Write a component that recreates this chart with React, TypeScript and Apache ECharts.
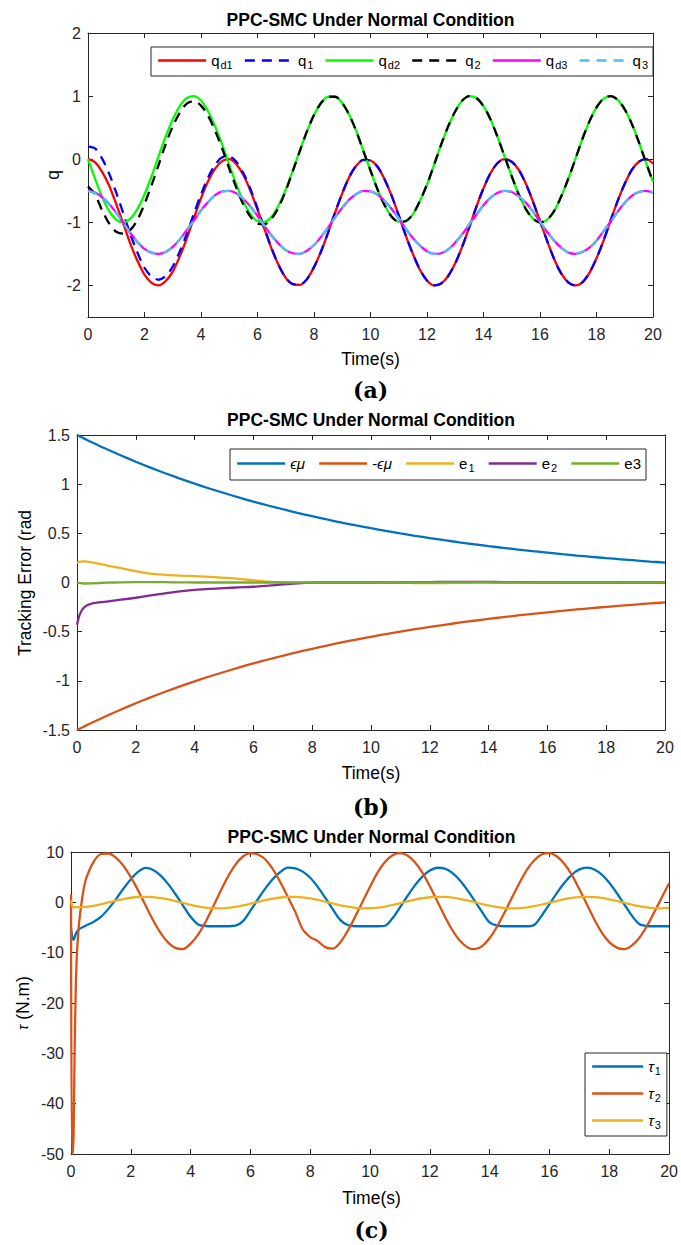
import React, { useEffect, useRef } from "react";
import * as echarts from "echarts";

// ---------------- DATA ----------------
// (a) joint positions, sampled every 0.25 s
const timeA = [0,0.25,0.5,0.75,1,1.25,1.5,1.75,2,2.25,2.5,2.75,3,3.25,3.5,3.75,4,4.25,4.5,4.75,5,5.25,5.5,5.75,6,6.25,6.5,6.75,7,7.25,7.5,7.75,8,8.25,8.5,8.75,9,9.25,9.5,9.75,10,10.25,10.5,10.75,11,11.25,11.5,11.75,12,12.25,12.5,12.75,13,13.25,13.5,13.75,14,14.25,14.5,14.75,15,15.25,15.5,15.75,16,16.25,16.5,16.75,17,17.25,17.5,17.75,18,18.25,18.5,18.75,19,19.25,19.5,19.75,20];
const qd1 = [0.00,-0.05,-0.20,-0.42,-0.71,-1.02,-1.34,-1.61,-1.83,-1.96,-2.00,-1.93,-1.78,-1.54,-1.25,-0.93,-0.62,-0.35,-0.15,-0.03,0.00,-0.08,-0.25,-0.50,-0.80,-1.11,-1.42,-1.68,-1.88,-1.98,-1.99,-1.90,-1.71,-1.46,-1.16,-0.84,-0.54,-0.28,-0.10,-0.01,-0.02,-0.12,-0.32,-0.58,-0.89,-1.21,-1.50,-1.75,-1.92,-2.00,-1.97,-1.85,-1.65,-1.38,-1.07,-0.75,-0.46,-0.22,-0.06,0.00,-0.04,-0.17,-0.39,-0.67,-0.98,-1.29,-1.58,-1.81,-1.95,-2.00,-1.95,-1.80,-1.57,-1.29,-0.97,-0.66,-0.39,-0.17,-0.04,0.00,-0.07];
const q1 = [0.20,0.17,0.01,-0.23,-0.53,-0.86,-1.19,-1.48,-1.72,-1.86,-1.91,-1.85,-1.70,-1.46,-1.18,-0.86,-0.56,-0.29,-0.09,0.03,0.04,-0.04,-0.22,-0.47,-0.78,-1.10,-1.41,-1.68,-1.88,-1.98,-1.99,-1.90,-1.71,-1.46,-1.16,-0.84,-0.54,-0.28,-0.10,-0.01,-0.02,-0.12,-0.32,-0.58,-0.89,-1.21,-1.50,-1.75,-1.92,-2.00,-1.97,-1.85,-1.65,-1.38,-1.07,-0.75,-0.46,-0.22,-0.06,0.00,-0.04,-0.17,-0.39,-0.67,-0.98,-1.29,-1.58,-1.81,-1.95,-2.00,-1.95,-1.80,-1.57,-1.29,-0.97,-0.66,-0.39,-0.17,-0.04,0.00,-0.07];
const qd2 = [0.00,-0.31,-0.60,-0.82,-0.96,-1.00,-0.94,-0.79,-0.56,-0.27,0.05,0.36,0.63,0.84,0.97,1.00,0.93,0.76,0.52,0.23,-0.09,-0.40,-0.67,-0.87,-0.98,-0.99,-0.91,-0.73,-0.48,-0.18,0.14,0.44,0.70,0.89,0.99,0.99,0.89,0.70,0.44,0.13,-0.18,-0.48,-0.73,-0.91,-0.99,-0.98,-0.87,-0.66,-0.40,-0.09,0.23,0.52,0.76,0.93,1.00,0.97,0.84,0.63,0.35,0.04,-0.27,-0.56,-0.79,-0.94,-1.00,-0.96,-0.82,-0.59,-0.31,0.00,0.32,0.60,0.82,0.96,1.00,0.94,0.79,0.56,0.27,-0.05,-0.36];
const q2 = [-0.43,-0.56,-0.81,-1.02,-1.15,-1.18,-1.12,-0.96,-0.71,-0.41,-0.09,0.24,0.52,0.74,0.88,0.92,0.85,0.69,0.45,0.17,-0.15,-0.45,-0.72,-0.91,-1.02,-1.03,-0.94,-0.76,-0.50,-0.19,0.13,0.44,0.70,0.89,0.99,0.99,0.89,0.70,0.44,0.13,-0.18,-0.48,-0.73,-0.91,-0.99,-0.98,-0.87,-0.66,-0.40,-0.09,0.23,0.52,0.76,0.93,1.00,0.97,0.84,0.63,0.35,0.04,-0.27,-0.56,-0.79,-0.94,-1.00,-0.96,-0.82,-0.59,-0.31,0.00,0.32,0.60,0.82,0.96,1.00,0.94,0.79,0.56,0.27,-0.05,-0.36];
const qd3 = [-0.50,-0.53,-0.60,-0.71,-0.85,-1.01,-1.17,-1.31,-1.42,-1.48,-1.50,-1.47,-1.39,-1.27,-1.12,-0.97,-0.81,-0.68,-0.57,-0.51,-0.50,-0.54,-0.63,-0.75,-0.90,-1.06,-1.21,-1.34,-1.44,-1.49,-1.50,-1.45,-1.36,-1.23,-1.08,-0.92,-0.77,-0.64,-0.55,-0.50,-0.51,-0.56,-0.66,-0.79,-0.94,-1.10,-1.25,-1.37,-1.46,-1.50,-1.49,-1.43,-1.32,-1.19,-1.03,-0.88,-0.73,-0.61,-0.53,-0.50,-0.52,-0.59,-0.69,-0.83,-0.99,-1.15,-1.29,-1.40,-1.48,-1.50,-1.47,-1.40,-1.29,-1.14,-0.99,-0.83,-0.69,-0.58,-0.52,-0.50,-0.53];
const q3 = [-0.50,-0.54,-0.61,-0.71,-0.85,-1.01,-1.17,-1.31,-1.42,-1.48,-1.50,-1.47,-1.39,-1.27,-1.12,-0.97,-0.81,-0.68,-0.57,-0.51,-0.50,-0.54,-0.63,-0.75,-0.90,-1.06,-1.21,-1.34,-1.44,-1.49,-1.50,-1.45,-1.36,-1.23,-1.08,-0.92,-0.77,-0.64,-0.55,-0.50,-0.51,-0.56,-0.66,-0.79,-0.94,-1.10,-1.25,-1.37,-1.46,-1.50,-1.49,-1.43,-1.32,-1.19,-1.03,-0.88,-0.73,-0.61,-0.53,-0.50,-0.52,-0.59,-0.69,-0.83,-0.99,-1.15,-1.29,-1.40,-1.48,-1.50,-1.47,-1.40,-1.29,-1.14,-0.99,-0.83,-0.69,-0.58,-0.52,-0.50,-0.53];
const yTicksA = [-2, -1, 0, 1, 2];

// (b) tracking errors
const timeB = [0,0.1,0.25,0.5,1,1.5,2,2.5,3,3.5,4,4.5,5,5.5,6,6.5,7,7.5,8,8.5,9,9.5,10,10.5,11,11.5,12,12.5,13,13.5,14,14.5,15,15.5,16,16.5,17,17.5,18,18.5,19,19.5,20];
const epsMu = [1.500,1.485,1.463,1.427,1.357,1.291,1.228,1.168,1.111,1.057,1.005,0.956,0.910,0.865,0.823,0.783,0.745,0.709,0.674,0.641,0.610,0.580,0.552,0.525,0.499,0.475,0.452,0.430,0.409,0.389,0.370,0.352,0.335,0.318,0.303,0.288,0.274,0.261,0.248,0.236,0.224,0.213,0.203];
const negEpsMu = [-1.500,-1.485,-1.463,-1.427,-1.357,-1.291,-1.228,-1.168,-1.111,-1.057,-1.005,-0.956,-0.910,-0.865,-0.823,-0.783,-0.745,-0.709,-0.674,-0.641,-0.610,-0.580,-0.552,-0.525,-0.499,-0.475,-0.452,-0.430,-0.409,-0.389,-0.370,-0.352,-0.335,-0.318,-0.303,-0.288,-0.274,-0.261,-0.248,-0.236,-0.224,-0.213,-0.203];
const e1 = [0.200,0.213,0.215,0.205,0.175,0.145,0.115,0.090,0.078,0.070,0.064,0.058,0.048,0.037,0.022,0.008,0.000,-0.002,0.000,0.000,0.000,0.000,0.000,-0.002,-0.004,-0.005,-0.006,-0.006,-0.004,-0.002,0.000,0.000,0.001,0.002,0.002,0.002,0.001,0.000,0.000,0.001,0.002,0.002,0.002];
const e2 = [-0.430,-0.320,-0.250,-0.215,-0.195,-0.175,-0.155,-0.132,-0.110,-0.090,-0.075,-0.064,-0.057,-0.050,-0.043,-0.032,-0.020,-0.008,-0.001,0.000,0.000,0.000,0.000,0.001,0.002,0.003,0.004,0.006,0.007,0.007,0.006,0.004,0.003,0.002,0.001,0.000,0.000,0.000,0.000,0.000,0.000,0.000,0.000];
const e3 = [0.000,-0.006,-0.010,-0.008,-0.002,0.002,0.004,0.004,0.003,0.001,0.000,0.000,0.000,0.000,0.000,0.000,0.000,0.000,0.000,0.000,0.000,0.000,0.000,0.000,0.000,0.000,0.000,0.001,0.002,0.002,0.001,0.000,0.000,0.000,0.000,0.000,0.000,0.000,0.000,0.000,0.000,0.000,0.000];

// (c) control torques
const timeC = [0,0.03,0.06,0.09,0.12,0.16,0.2,0.25,0.3,0.4,0.5,0.75,1,1.25,1.5,1.75,2,2.25,2.5,2.75,3,3.25,3.5,3.75,4,4.25,4.5,4.75,5,5.25,5.5,5.75,6,6.25,6.5,6.75,7,7.25,7.5,7.75,8,8.25,8.5,8.75,9,9.25,9.5,9.75,10,10.25,10.5,10.75,11,11.25,11.5,11.75,12,12.25,12.5,12.75,13,13.25,13.5,13.75,14,14.25,14.5,14.75,15,15.25,15.5,15.75,16,16.25,16.5,16.75,17,17.25,17.5,17.75,18,18.25,18.5,18.75,19,19.25,19.5,19.75,20];
const tau1 = [-5.0,-6.5,-7.3,-7.4,-7.0,-6.3,-5.8,-5.5,-5.2,-4.9,-4.6,-3.9,-2.9,-1.3,0.6,2.7,4.6,6.1,6.85,6.43,5.31,3.62,1.56,-0.69,-2.88,-4.4,-4.7,-4.75,-4.75,-4.75,-4.65,-3.74,-1.64,0.61,2.78,4.65,6.03,6.9,6.75,6.1,4.87,3.06,0.92,-1.34,-3.48,-4.5,-4.75,-4.75,-4.75,-4.75,-4.65,-3.17,-1.0,1.26,3.36,5.11,6.32,6.87,6.71,5.86,4.4,2.47,0.27,-1.97,-4.0,-4.65,-4.75,-4.75,-4.75,-4.75,-4.45,-2.56,-0.35,1.89,3.91,5.52,6.55,6.9,6.54,5.49,3.88,1.85,-0.38,-2.6,-4.3,-4.7,-4.75,-4.75,-4.75];
const tau2 = [1.6,-50,-50,-45,-30,-17,-10,-5.5,-2.5,1.8,4.6,8.0,9.6,9.7,8.9,7.3,5.0,2.3,-0.7,-3.6,-6.1,-8.0,-9.1,-9.28,-8.2,-6.4,-3.9,-0.9,2.2,5.1,7.5,9.1,9.79,9.5,8.5,6.6,4.0,1.1,-1.9,-5.4,-6.9,-7.7,-8.9,-9.2,-8.0,-5.7,-2.9,0.1,3.1,5.9,8.0,9.35,9.78,9.3,7.95,5.9,3.2,0.2,-2.8,-5.5,-7.6,-8.9,-9.3,-8.7,-7.1,-4.8,-2.0,1.0,3.9,6.5,8.4,9.55,9.78,9.1,7.6,5.4,2.6,-0.4,-3.4,-6.0,-7.9,-9.0,-9.3,-8.6,-7.1,-4.8,-2.0,0.9,3.8];
const tau3 = [0.4,-0.4,-0.9,-1.0,-1.0,-0.95,-0.95,-0.95,-0.95,-0.93,-0.9,-0.71,-0.39,-0.02,0.34,0.65,0.91,1.06,1.1,1.02,0.84,0.57,0.23,-0.13,-0.49,-0.8,-1.03,-1.17,-1.2,-1.1,-0.91,-0.62,-0.28,0.08,0.43,0.74,0.96,1.08,1.09,0.98,0.77,0.48,0.13,-0.23,-0.58,-0.87,-1.08,-1.19,-1.18,-1.06,-0.83,-0.53,-0.18,0.19,0.53,0.81,1.01,1.1,1.07,0.93,0.69,0.38,0.03,-0.34,-0.67,-0.94,-1.13,-1.2,-1.16,-1.0,-0.75,-0.43,-0.07,0.29,0.62,0.88,1.04,1.1,1.04,0.87,0.61,0.28,-0.08,-0.44,-0.76,-1.01,-1.16,-1.2,-1.12];

// ---------------- STYLE ----------------
const FONT = '"Liberation Sans", Arial, Helvetica, sans-serif';
const AXC = "#262626";
const DASH = [10, 7];

const zip = (t: number[], v: number[]) => t.map((x, i) => [x, v[i]]);

const grids = [
  { left: 88, top: 33, width: 565, height: 284 },
  { left: 77, top: 435, width: 588, height: 295 },
  { left: 71, top: 852, width: 601, height: 302 },
];

function xAxes(gi: number) {
  const base: any = {
    type: "value", gridIndex: gi, min: 0, max: 20, interval: 2,
    splitLine: { show: false },
    axisLine: { show: true, onZero: false, lineStyle: { color: AXC, width: 1 } },
    axisTick: { show: true, inside: true, length: 5, lineStyle: { color: AXC, width: 1 } },
  };
  return [
    { ...base, position: "bottom", axisLabel: { show: true, margin: 9, color: AXC, fontSize: 16, fontFamily: FONT } },
    { ...base, position: "top", axisLabel: { show: false } },
  ];
}

function yAxes(gi: number, min: number, max: number, interval?: number, ticks?: number[]) {
  const base: any = {
    type: "value", gridIndex: gi, min, max,
    splitLine: { show: false },
    axisLine: { show: true, onZero: false, lineStyle: { color: AXC, width: 1 } },
    axisTick: { show: true, inside: true, length: 5, lineStyle: { color: AXC, width: 1 } },
  };
  if (interval !== undefined) base.interval = interval;
  if (ticks) base.axisTick = { ...base.axisTick, customValues: ticks };
  const lab: any = { show: true, margin: 7, color: AXC, fontSize: 16, fontFamily: FONT };
  if (ticks) lab.customValues = ticks;
  return [
    { ...base, position: "left", axisLabel: lab },
    { ...base, position: "right", axisLabel: { show: false } },
  ];
}

function line(name: string, axis: number, t: number[], v: number[], color: string, dashed = false) {
  return {
    name, type: "line", xAxisIndex: axis, yAxisIndex: axis,
    data: zip(t, v), symbol: "none", showSymbol: false, smooth: 0.3,
    lineStyle: { color, width: 2.3, type: dashed ? DASH : "solid" },
    itemStyle: { color },
    emphasis: { disabled: true },
  };
}

const rich = {
  n: { fontSize: 15, fontFamily: FONT, color: "#000" },
  i: { fontSize: 15, fontFamily: FONT, fontStyle: "italic", color: "#000" },
  s: { fontSize: 11, fontFamily: FONT, color: "#000", padding: [8, 0, 0, 1] },
};
const legendLabels: Record<string, string> = {
  qd1: "{n|q}{s|d1}", q1: "{n|q}{s|1}", qd2: "{n|q}{s|d2}", q2: "{n|q}{s|2}", qd3: "{n|q}{s|d3}", q3: "{n|q}{s|3}",
  epsmu: "{i|ϵμ}", negepsmu: "{n|-}{i|ϵμ}", e1: "{n|e}{s|1}", e2: "{n|e}{s|2}", e3: "{n|e3}",
  tau1: "{i|τ}{s|1}", tau2: "{i|τ}{s|2}", tau3: "{i|τ}{s|3}",
};
const legendBase = {
  backgroundColor: "#fff", borderColor: AXC, borderWidth: 1, borderRadius: 0,
  itemWidth: 48, itemHeight: 14, selectedMode: false,
  lineStyle: { width: 2.3 },
  itemStyle: { opacity: 0, borderWidth: 0 },
  textStyle: { fontSize: 15, fontFamily: FONT, color: "#000", rich },
  formatter: (n: string) => legendLabels[n] || n,
};

function txt(x: number, y: number, text: string, font: string, extra: any = {}) {
  const { style, ...rest } = extra;
  return {
    type: "text", x, y, silent: true, ...rest,
    style: { text, font, fill: "#000", align: "center", verticalAlign: "middle", textAlign: "center", textVerticalAlign: "middle", ...(style || {}) },
  };
}

function buildOption(): any {
  const title = `bold 17.5px ${FONT}`;
  const axName = `17.5px ${FONT}`;
  const panel = 'bold 22px "DejaVu Serif", "Liberation Serif", serif';
  return {
    animation: false,
    backgroundColor: "#fff",
    grid: grids.map((g) => ({ ...g, containLabel: false })),
    xAxis: [...xAxes(0), ...xAxes(1), ...xAxes(2)],
    yAxis: [...yAxes(0, -2.5, 2, undefined, yTicksA), ...yAxes(1, -1.5, 1.5, 0.5), ...yAxes(2, -50, 10, 10)],
    legend: [
      { ...legendBase, data: ["qd1", "q1", "qd2", "q2", "qd3", "q3"], orient: "horizontal", left: 151, top: 47, itemGap: 11, padding: [6, 5, 6, 6] },
      { ...legendBase, data: ["epsmu", "negepsmu", "e1", "e2", "e3"], orient: "horizontal", left: 230, top: 449, itemGap: 13, padding: [7, 5, 7, 6] },
      { ...legendBase, data: ["tau1", "tau2", "tau3"], orient: "vertical", left: 585, top: 1053, itemWidth: 51, itemGap: 10, padding: [6, 6, 6, 6] },
    ],
    series: [
      line("qd1", 0, timeA, qd1, "#FF0000"),
      line("q1", 0, timeA, q1, "#0000FF", true),
      line("qd2", 0, timeA, qd2, "#00FF00"),
      line("q2", 0, timeA, q2, "#000000", true),
      line("qd3", 0, timeA, qd3, "#FF00FF"),
      line("q3", 0, timeA, q3, "#4DBEEE", true),
      line("epsmu", 2, timeB, epsMu, "#0072BD"),
      line("negepsmu", 2, timeB, negEpsMu, "#D95319"),
      line("e1", 2, timeB, e1, "#EDB120"),
      line("e2", 2, timeB, e2, "#7E2F8E"),
      line("e3", 2, timeB, e3, "#77AC30"),
      line("tau1", 4, timeC, tau1, "#0072BD"),
      line("tau2", 4, timeC, tau2, "#D95319"),
      line("tau3", 4, timeC, tau3, "#EDB120"),
    ],
    graphic: { elements: [
      txt(370.5, 20, "PPC-SMC Under Normal Condition", title),
      txt(371, 420, "PPC-SMC Under Normal Condition", title),
      txt(371.5, 837, "PPC-SMC Under Normal Condition", title),
      txt(370.5, 359, "Time(s)", axName),
      txt(371, 773, "Time(s)", axName),
      txt(371.5, 1198, "Time(s)", axName),
      txt(53, 175, "q", axName, { rotation: Math.PI / 2 }),
      txt(25, 583, "Tracking Error (rad", axName, { rotation: Math.PI / 2 }),
      txt(23, 1003, "{i|τ} (N.m)", axName, { rotation: Math.PI / 2, style: { rich: { i: { fontSize: 14, fontFamily: FONT, fontStyle: "italic", fill: "#000" } } } }),
      txt(370.5, 390, "(a)", panel),
      txt(371, 807, "(b)", panel),
      txt(371.5, 1230, "(c)", panel),
    ] },
  };
}

export default function App() {
  const ref = useRef<HTMLDivElement>(null);
  useEffect(() => {
    if (!ref.current) return;
    const chart = echarts.init(ref.current, null, { renderer: "svg" });
    chart.setOption(buildOption());
    return () => chart.dispose();
  }, []);
  return <div ref={ref} style={{ position: "fixed", left: 0, top: 0, width: 681, height: 1245, background: "#fff" }} />;
}
